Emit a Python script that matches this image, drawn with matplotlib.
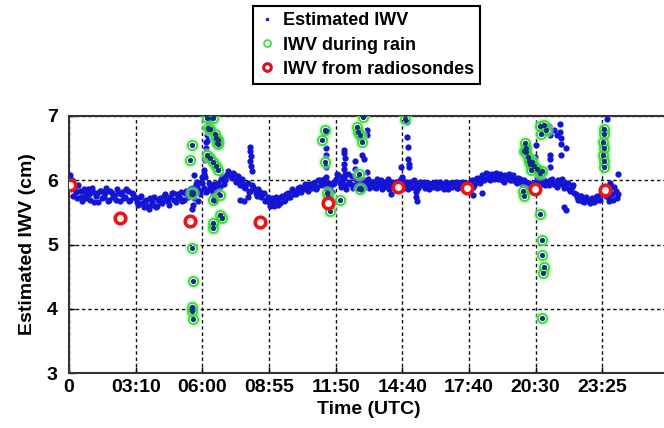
import numpy as np
import matplotlib
matplotlib.use("Agg")
import matplotlib.pyplot as plt
from matplotlib.lines import Line2D

plt.rcParams['font.family'] = ['Liberation Sans', 'DejaVu Sans']
plt.rcParams['font.weight'] = 'bold'

# ---- data (x in units of tick spacing, ~175 min) ----
tick_labels = ['0', '03:10', '06:00', '08:55', '11:50', '14:40', '17:40', '20:30', '23:25']
tick_pos = [0, 1, 2, 3, 4, 5, 6, 7, 8]

band_dt = 0.04
band1_t0 = 0.0
band1_iwv = [
    5.95, 6.00, 5.88, 5.72, 5.84, 5.68, 5.80, 5.86, 5.70, 5.82, 5.76, 5.66, 5.84, 5.74, 5.88, 5.70, 5.80, 5.76, 5.86, 5.68, 5.82, 5.74, 5.84, 5.70, 5.78,
    5.72, 5.62, 5.76, 5.58, 5.70, 5.55, 5.66, 5.74, 5.60, 5.72, 5.64, 5.78, 5.68, 5.74, 5.80, 5.66, 5.76, 5.82, 5.70, 5.84, 5.76, 5.88, 5.72, 5.90, 5.78,
    5.95, 6.05, 5.85, 5.92, 5.78, 5.88, 5.96, 6.02, 5.94, 6.08, 6.12, 6.04, 6.10, 6.00, 5.92, 6.02, 5.88, 5.96, 5.84, 5.90, 5.80, 5.86, 5.74, 5.80, 5.70,
    5.66, 5.72, 5.60, 5.70, 5.64, 5.76, 5.70, 5.80, 5.74, 5.84, 5.78, 5.88, 5.82, 5.90, 5.86, 5.94, 5.88, 5.96, 5.90, 6.00, 5.92, 5.98, 5.90, 5.86, 5.94,
    6.02, 6.08, 5.90, 6.04, 5.86, 5.98, 6.06, 5.92, 5.88, 6.00, 5.94, 5.90, 6.02, 5.92, 5.98, 5.88, 5.96, 6.00, 5.90, 5.94, 5.86, 5.98, 5.92, 5.96, 6.00,
    6.04, 5.92, 5.86, 5.98, 5.90, 5.96, 5.88, 5.94, 5.98, 5.90, 5.86, 5.96, 5.92, 5.88, 5.98, 5.94, 5.90, 5.86, 5.96, 5.92, 5.98, 5.88, 5.94, 5.90, 5.96,
    5.94, 6.00, 5.92, 6.04, 5.96, 6.08, 6.02, 6.10, 6.00, 6.06, 6.12, 6.02, 6.08, 5.98, 6.06, 6.10, 6.00, 6.04, 5.96, 6.02, 5.94, 5.98, 5.90, 5.86, 5.92,
    5.98, 6.04, 5.94, 6.00, 5.96, 5.92, 6.02, 5.96, 5.90, 5.98, 6.02, 5.90, 5.96, 5.84, 5.92, 5.78, 5.70, 5.76, 5.66, 5.74, 5.68, 5.72, 5.66, 5.76, 5.70,
    5.80, 5.88, 5.74, 5.92, 5.70, 5.84, 5.78,
]
band2_t0 = 0.02
band2_iwv = [
    5.90, 5.76, 5.82, 5.92, 5.74, 5.86, 5.72, 5.78, 5.88, 5.66, 5.80, 5.84, 5.72, 5.80, 5.68, 5.84, 5.74, 5.70, 5.80, 5.78, 5.72, 5.86, 5.68, 5.80, 5.74,
    5.66, 5.74, 5.64, 5.68, 5.60, 5.72, 5.62, 5.58, 5.70, 5.66, 5.76, 5.70, 5.62, 5.80, 5.70, 5.78, 5.72, 5.68, 5.80, 5.74, 5.86, 5.80, 5.94, 5.84, 5.98,
    5.88, 5.82, 5.96, 5.86, 5.94, 5.82, 5.90, 6.06, 6.00, 6.14, 6.06, 6.12, 5.98, 6.06, 5.98, 5.90, 5.94, 5.82, 5.92, 5.86, 5.76, 5.82, 5.78, 5.68, 5.74,
    5.60, 5.68, 5.74, 5.62, 5.74, 5.68, 5.78, 5.74, 5.86, 5.78, 5.82, 5.90, 5.86, 5.94, 5.84, 5.90, 5.96, 5.86, 6.00, 5.94, 6.02, 5.88, 5.96, 5.82, 5.98,
    6.10, 5.96, 6.00, 5.92, 6.10, 5.94, 5.88, 6.02, 5.96, 5.86, 6.00, 5.96, 5.88, 5.98, 5.90, 6.02, 5.92, 5.86, 5.98, 6.02, 5.94, 5.90, 5.98, 5.88, 5.94,
    5.88, 5.98, 5.94, 5.90, 6.00, 5.86, 5.98, 5.92, 5.88, 5.96, 5.94, 5.90, 5.98, 5.94, 5.90, 5.86, 5.98, 5.94, 5.90, 5.96, 5.88, 5.94, 5.98, 5.92, 5.90,
    5.98, 5.90, 6.02, 5.98, 6.04, 6.00, 6.12, 6.04, 6.10, 6.02, 6.06, 6.10, 6.00, 6.08, 6.04, 6.00, 6.08, 5.98, 6.04, 5.96, 6.00, 5.92, 5.96, 5.94, 5.88,
    5.94, 5.98, 6.02, 5.92, 5.98, 6.00, 5.94, 5.92, 6.00, 5.94, 5.88, 5.96, 5.86, 5.90, 5.80, 5.74, 5.76, 5.68, 5.72, 5.70, 5.64, 5.70, 5.74, 5.70, 5.78,
    5.86, 5.76, 5.84, 5.78, 5.90, 5.72,
]

# extra estimated points (spikes / outliers)
extra_t = [0.02, 1.84, 1.86, 1.88, 1.92, 1.94, 1.97, 1.99, 2.02, 2.03, 2.04, 2.05, 2.06, 2.07, 2.08, 2.09, 2.10, 2.11, 2.11, 2.18,
           2.56, 2.62, 2.68, 2.72, 2.72, 2.73, 2.72, 2.73, 2.74,
           3.85, 3.85, 3.85, 3.86, 3.86, 3.86, 4.09, 4.10,
           4.13, 4.13, 4.14, 4.12, 4.13, 4.14, 4.29, 4.29,
           4.47, 4.47, 4.39, 4.42, 4.47, 4.83,
           4.98, 5.00, 5.07, 5.07, 5.09, 5.09, 5.10, 5.10, 5.20, 5.20, 5.22, 6.06, 6.20,
           7.00, 6.99, 7.02, 7.05, 7.20, 7.28, 7.22, 7.32, 7.38, 7.36, 7.36, 7.38, 7.38, 7.21, 7.22, 7.21, 7.46, 7.42, 7.45,
           8.07, 8.23, 8.10, 8.12]
extra_iwv = [6.08, 5.55, 5.62, 6.08, 5.97, 5.68, 5.84, 6.05, 6.16, 6.10, 6.32, 6.50, 6.60, 6.70, 6.62, 6.80, 6.90, 6.97, 5.86, 5.70,
             5.70, 5.68, 5.74, 6.52, 6.45, 6.38, 6.30, 6.22, 6.15,
             6.77, 6.50, 6.40, 6.20, 6.05, 5.90, 6.05, 5.95,
             6.47, 6.42, 6.35, 6.25, 6.17, 6.10, 6.30, 6.17,
             6.78, 6.70, 6.40, 6.33, 6.13, 5.79,
             6.20, 6.05, 6.90, 6.67, 6.52, 6.33, 6.25, 6.20, 5.82, 5.74, 5.68, 5.77, 5.80,
             6.55, 6.36, 6.05, 6.00, 6.85, 6.78, 6.70, 6.70, 6.65, 6.88, 6.75, 6.56, 6.39, 6.40, 6.33, 6.20, 6.50, 5.58, 5.54,
             6.95, 6.10, 5.68, 5.95]

# IWV during rain
rain_t = [1.84, 1.81, 1.85, 1.84, 1.86, 1.84, 1.86, 1.85,
          2.07, 2.16, 2.08, 2.11, 2.19, 2.21, 2.23, 2.22, 2.24, 2.07, 2.12, 2.16, 2.20, 2.23, 2.16, 2.26, 2.26, 2.29, 2.16, 2.16,
          3.80, 3.84, 3.84, 3.87, 3.89, 3.90, 3.91, 4.06,
          4.32, 4.34, 4.37, 4.40, 4.41, 4.35, 4.37,
          5.04,
          6.81, 6.82, 6.84, 6.85, 6.86, 6.83, 6.88, 6.90, 6.92, 6.95, 6.98, 7.02, 7.06, 7.10, 6.93,
          7.06, 7.12, 7.15, 7.08, 7.07, 7.10, 7.09, 7.12, 7.11, 7.10,
          8.02, 8.03, 8.01, 8.03, 8.01, 8.03, 8.02]
rain_iwv = [6.55, 6.32, 5.80, 4.95, 4.43, 4.02, 3.84, 3.97,
            6.97, 6.97, 6.82, 6.80, 6.72, 6.66, 6.62, 6.58, 6.56, 6.40, 6.34, 6.28, 6.22, 6.16, 5.70, 5.77, 5.46, 5.41, 5.33, 5.25,
            6.63, 6.78, 6.29, 5.80, 5.74, 5.68, 5.52, 5.70,
            6.83, 6.75, 6.70, 6.60, 6.98, 6.10, 5.86,
            6.95,
            5.84, 5.76, 6.58, 6.50, 6.44, 6.46, 6.36, 6.30, 6.25, 6.28, 6.22, 6.18, 6.12, 6.15, 6.16,
            6.85, 6.86, 6.78, 6.72, 5.48, 5.07, 4.84, 4.65, 4.56, 3.86,
            6.80, 6.72, 6.60, 6.50, 6.40, 6.30, 6.20]

# IWV from radiosondes
sonde_t = [0.01, 0.76, 1.81, 2.86, 3.88, 4.93, 5.97, 6.99, 8.04]
sonde_iwv = [5.93, 5.41, 5.37, 5.35, 5.64, 5.90, 5.88, 5.87, 5.85]

band1_t = band1_t0 + band_dt * np.arange(len(band1_iwv))
band2_t = band2_t0 + band_dt * np.arange(len(band2_iwv))

# ---- figure ----
fig = plt.figure(figsize=(6.64, 4.28), dpi=100)
ax = fig.add_axes([69 / 664, 1 - 373 / 428, 600 / 664, 257 / 428])

blue = '#1414d4'
ms_b = 4.5
ax.plot(band1_t, band1_iwv, 'o', color=blue, ms=ms_b, mew=0, zorder=3)
ax.plot(band2_t, band2_iwv, 'o', color=blue, ms=ms_b, mew=0, zorder=3)
ax.plot(extra_t, extra_iwv, 'o', color=blue, ms=ms_b, mew=0, zorder=3)
ax.plot(rain_t, rain_iwv, 'o', mfc='none', mec='#a8f0a8', ms=8.5, mew=2.0, alpha=0.5, zorder=4)
ax.plot(rain_t, rain_iwv, 'o', mfc='none', mec='#3cd83c', ms=6.6, mew=1.3, zorder=4)
ax.plot(rain_t, rain_iwv, 'o', color='#10307a', ms=3.8, mew=0, zorder=5)
ax.plot(sonde_t, sonde_iwv, 'o', mfc='#fff8f0', mec='#e8161c', ms=7.6, mew=2.6, zorder=6)

ax.set_xlim(0, 9)
ax.set_ylim(3, 7)
ax.set_xticks(tick_pos)
ax.set_xticklabels(tick_labels)
ax.set_yticks([3, 4, 5, 6, 7])
ax.grid(True, color='#111111', linestyle=(0, (2.5, 2)), linewidth=1.0)
ax.set_axisbelow(True)
ax.tick_params(direction='in', length=4, width=1, labelsize=14, pad=4)
ax.tick_params(axis='y', pad=8)
for lab in ax.get_xticklabels() + ax.get_yticklabels():
    lab.set_fontweight('bold')
for s in ax.spines.values():
    s.set_color('#333333')
    s.set_linewidth(1.5)
ax.set_xlabel('Time (UTC)', fontsize=14, fontweight='bold', labelpad=4)
ax.set_ylabel('Estimated IWV (cm)', fontsize=14, fontweight='bold', labelpad=8)

handles = [
    Line2D([], [], ls='none', marker='o', color=blue, ms=2.5, mew=0),
    Line2D([], [], ls='none', marker='o', mfc='none', mec='#3cd83c', ms=5, mew=1.2),
    Line2D([], [], ls='none', marker='o', mfc='white', mec='#e01018', ms=5.5, mew=2.2),
]
leg = fig.legend(handles, ['Estimated IWV', 'IWV during rain', 'IWV from radiosondes'],
                 loc='upper left', bbox_to_anchor=(253 / 664, 1 - 6 / 428),
                 prop={'size': 13, 'weight': 'bold'}, frameon=True, fancybox=False,
                 edgecolor='black', framealpha=1, handlelength=0.8, handletextpad=0.5,
                 labelspacing=0.4, borderpad=0.35, borderaxespad=0)
leg.get_frame().set_linewidth(1.5)

fig.savefig('out.png', dpi=100)
